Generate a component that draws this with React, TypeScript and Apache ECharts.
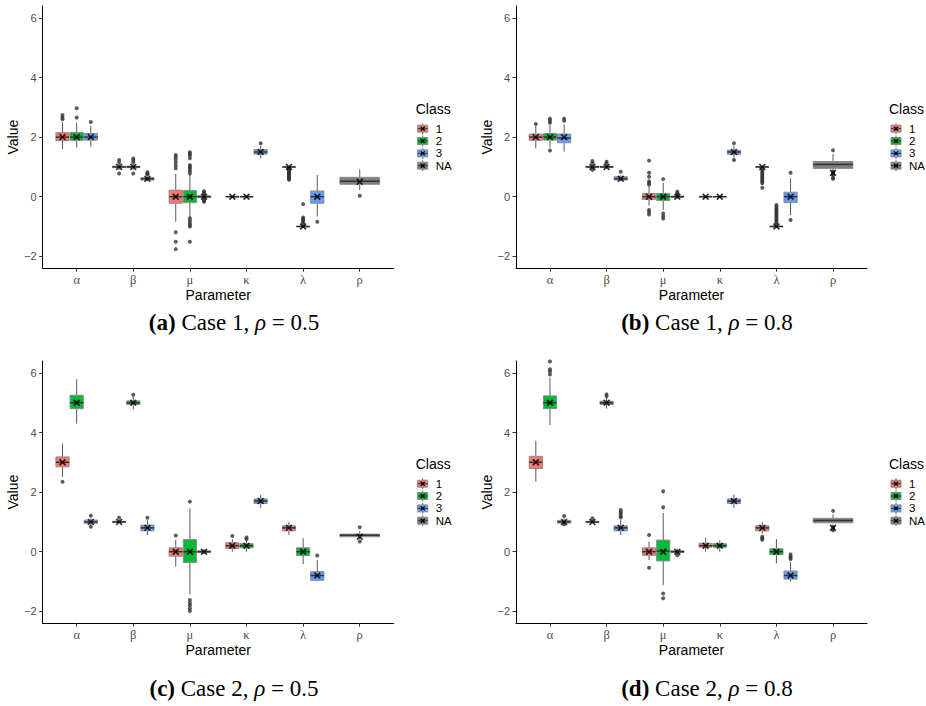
import React, { useEffect, useRef } from "react";
import * as echarts from "echarts";

// ---------- data ----------
const params = ["α", "β", "μ", "κ", "λ", "ρ"];
const classNames = ["1", "2", "3", "NA"];
const classColors = ["#F8766D", "#00BA38", "#619CFF", "#7F7F7F"];
const yTicks = [-2, 0, 2, 4, 6];

// box stats per class: [lower whisker, Q1, median, Q3, upper whisker] for each parameter
const boxesA = [
  [[1.59, 1.88, 2.0, 2.15, 2.5], [0.9, 0.975, 1.0, 1.025, 1.1], [-0.84, -0.22, 0.0, 0.22, 0.77], [-0.02, -0.01, 0, 0.01, 0.02], [0.97, 0.99, 1.0, 1.0, 1.02], null],
  [[1.65, 1.89, 2.0, 2.16, 2.48], [0.9, 0.975, 1.0, 1.025, 1.1], [-0.67, -0.2, 0.0, 0.21, 0.74], [-0.02, -0.01, 0, 0.01, 0.02], [-1.03, -1.01, -1.0, -0.99, -0.97], null],
  [[1.68, 1.9, 2.0, 2.12, 2.38], [0.52, 0.56, 0.6, 0.64, 0.68], [-0.08, -0.03, 0, 0.03, 0.08], [1.29, 1.43, 1.5, 1.58, 1.71], [-0.67, -0.22, 0.0, 0.19, 0.73], null],
  [null, null, null, null, null, [0.22, 0.415, 0.52, 0.65, 0.92]],
];
const outliersA = [
  [[2.74, 2.66, 2.6], [1.23, 1.15, 0.78], [1.4, 1.33, 1.25, 1.15, 1.05, 0.95, -1.19, -1.51, -1.76], [], [0.95, 0.92, 0.88, 0.85, 0.82, 0.78, 0.75, 0.72, 0.68, 0.65, 0.62, 0.6, 0.57], []],
  [[2.97, 2.66], [1.28, 1.22, 1.15, 0.78], [1.49, 1.44, 1.38, 1.29, 1.06, 1.0, 0.94, 0.86, 0.78, -0.72, -0.8, -0.88, -0.95, -1.0, -1.51], [], [-0.25, -0.7, -0.75, -0.8, -0.85, -0.9], []],
  [[2.51], [0.82, 0.78, 0.75], [0.18, 0.14, 0.11, -0.11, -0.14, -0.17], [1.79], [-0.84], []],
  [[], [], [], [], [], [0.03]],
];
const truthA = [
  [2, 1, 0, 0, 1, null],
  [2, 1, 0, 0, -1, null],
  [2, 0.6, 0, 1.5, 0, null],
  [null, null, null, null, null, 0.5],
];

const boxesB = [
  [[1.62, 1.89, 2.0, 2.1, 2.37], [0.92, 0.98, 1.0, 1.02, 1.08], [-0.3, -0.09, 0.0, 0.11, 0.33], [-0.02, -0.01, 0, 0.01, 0.02], [0.97, 0.99, 1.0, 1.0, 1.02], null],
  [[1.65, 1.9, 2.0, 2.12, 2.4], [0.92, 0.98, 1.0, 1.02, 1.08], [-0.45, -0.13, 0.0, 0.11, 0.47], [-0.02, -0.01, 0, 0.01, 0.02], [-1.03, -1.01, -1.0, -0.99, -0.97], null],
  [[1.51, 1.81, 1.97, 2.1, 2.42], [0.52, 0.56, 0.6, 0.67, 0.72], [-0.06, -0.02, 0, 0.02, 0.06], [1.3, 1.42, 1.5, 1.56, 1.7], [-0.62, -0.2, 0.0, 0.15, 0.62], null],
  [null, null, null, null, null, [0.89, 0.95, 1.08, 1.18, 1.43]],
];
const outliersB = [
  [[2.44], [1.2, 1.13, 0.9], [1.21, 0.8, 0.67, 0.52, 0.46, 0.4, -0.45, -0.52, -0.6], [], [0.92, 0.86, 0.8, 0.75, 0.7, 0.65, 0.6, 0.55, 0.5, 0.45, 0.3], []],
  [[2.62, 2.55, 2.48, 1.55], [1.17, 1.12], [0.59, -0.56, -0.66, -0.73], [], [-0.28, -0.34, -0.4, -0.45, -0.5, -0.55, -0.6, -0.65, -0.7, -0.75, -0.8, -0.85, -0.9], []],
  [[2.62, 2.55], [0.84], [0.17, 0.12, 0.09], [1.79, 1.23], [0.8, -0.78], []],
  [[], [], [], [], [], [1.56, 0.84, 0.8, 0.76, 0.72, 0.63, 0.6]],
];
const truthB = [
  [2, 1, 0, 0, 1, null],
  [2, 1, 0, 0, -1, null],
  [2, 0.6, 0, 1.5, 0, null],
  [null, null, null, null, null, 0.8],
];

const boxesC = [
  [[2.51, 2.85, 3.0, 3.18, 3.63], [0.95, 0.98, 1.0, 1.02, 1.06], [-0.5, -0.15, 0.0, 0.13, 0.4], [0.0, 0.11, 0.2, 0.3, 0.42], [0.56, 0.7, 0.8, 0.87, 1.0], null],
  [[4.3, 4.8, 5.0, 5.25, 5.79], [4.77, 4.94, 5.0, 5.06, 5.2], [-1.43, -0.36, 0.0, 0.41, 1.45], [0.0, 0.13, 0.2, 0.27, 0.38], [-0.42, -0.13, 0.0, 0.13, 0.45], null],
  [[0.88, 0.95, 1.0, 1.06, 1.12], [0.56, 0.7, 0.8, 0.89, 1.06], [-0.08, -0.03, 0, 0.03, 0.08], [1.47, 1.62, 1.7, 1.77, 1.9], [-1.0, -0.96, -0.8, -0.67, -0.28], null],
  [null, null, null, null, null, [0.42, 0.5, 0.55, 0.59, 0.68]],
];
const outliersC = [
  [[2.35], [1.14], [0.54], [0.53], [], []],
  [[], [5.27], [1.68, -1.62, -1.72, -1.8, -1.9, -1.99], [0.48, 0.42], [], []],
  [[1.21, 0.84], [1.14], [], [], [-0.13], []],
  [[], [], [], [], [], [0.82, 0.34]],
];
const truthC = [
  [3, 1, 0, 0.2, 0.8, null],
  [5, 5, 0, 0.2, 0, null],
  [1, 0.8, 0, 1.7, -0.8, null],
  [null, null, null, null, null, 0.5],
];

const boxesD = [
  [[2.35, 2.79, 3.0, 3.2, 3.72], [0.95, 0.98, 1.0, 1.02, 1.06], [-0.28, -0.12, 0.0, 0.13, 0.34], [0.0, 0.15, 0.2, 0.28, 0.47], [0.6, 0.7, 0.8, 0.87, 1.0], null],
  [[4.25, 4.8, 5.0, 5.23, 5.83], [4.8, 4.94, 5.0, 5.05, 5.16], [-1.12, -0.31, 0.02, 0.39, 1.3], [0.0, 0.15, 0.2, 0.27, 0.39], [-0.39, -0.1, 0.0, 0.1, 0.42], null],
  [[0.9, 0.96, 1.0, 1.05, 1.12], [0.56, 0.7, 0.8, 0.87, 1.06], [-0.1, -0.03, 0, 0.03, 0.1], [1.47, 1.62, 1.7, 1.77, 1.92], [-1.0, -0.92, -0.8, -0.65, -0.34], null],
  [null, null, null, null, null, [0.95, 0.97, 1.05, 1.12, 1.25]],
];
const outliersD = [
  [[], [1.12], [0.56, -0.54], [], [0.5, 0.45, 0.4], []],
  [[6.38, 6.12, 6.05, 5.95], [5.28, 5.22], [2.03, 1.49, -1.4, -1.56], [], [], []],
  [[1.2, 0.92], [1.4, 1.33, 1.27, 1.2, 1.15], [-0.12], [], [-0.09, -0.15, -0.2, -0.25], []],
  [[], [], [], [], [], [1.37, 0.84, 0.78, 0.72]],
];
const truthD = [
  [3, 1, 0, 0.2, 0.8, null],
  [5, 5, 0, 0.2, 0, null],
  [1, 0.8, 0, 1.7, -0.8, null],
  [null, null, null, null, null, 0.8],
];

const captions = [
  { tag: "(a)", caseNo: "1", rho: "0.5" },
  { tag: "(b)", caseNo: "1", rho: "0.8" },
  { tag: "(c)", caseNo: "2", rho: "0.5" },
  { tag: "(d)", caseNo: "2", rho: "0.8" },
];

// ---------- layout ----------
const panelDefs = [
  { boxes: boxesA, outs: outliersA, truth: truthA, left: 42.7, top: 6, capX: 234, capY: 322 },
  { boxes: boxesB, outs: outliersB, truth: truthB, left: 516, top: 6, capX: 707, capY: 322 },
  { boxes: boxesC, outs: outliersC, truth: truthC, left: 42.7, top: 361, capX: 234, capY: 688 },
  { boxes: boxesD, outs: outliersD, truth: truthD, left: 516, top: 361, capX: 707, capY: 688 },
];
const GRID_W = 351;
const GRID_H = 262.2;
const DODGE = 0.75;
const BOXW = 0.7;
const SANS = "Liberation Sans, Arial, sans-serif";
const SERIF = "Liberation Serif, Times New Roman, serif";
const X_SYMBOL =
  "path://M0,1.7L1.7,0L5,3.3L8.3,0L10,1.7L6.7,5L10,8.3L8.3,10L5,6.7L1.7,10L0,8.3L3.3,5Z";

function buildOption() {
  const grid: any[] = [];
  const xAxis: any[] = [];
  const yAxis: any[] = [];
  const series: any[] = [];
  const graphic: any[] = [];

  panelDefs.forEach((pd, gi) => {
    grid.push({ left: pd.left, top: pd.top, width: GRID_W, height: GRID_H, containLabel: false });
    xAxis.push({
      gridIndex: gi,
      type: "value",
      min: 0.4,
      max: 6.6,
      splitLine: { show: false },
      axisLine: { show: true, onZero: false, lineStyle: { color: "#000", width: 1 } },
      axisTick: { show: true, customValues: [1, 2, 3, 4, 5, 6], length: 3.5, lineStyle: { color: "#333" } },
      axisLabel: {
        customValues: [1, 2, 3, 4, 5, 6],
        formatter: (v: number) => params[Math.round(v) - 1] || "",
        color: "#4D4D4D",
        fontFamily: SERIF,
        fontSize: 12.5,
        margin: 5,
      },
      name: "Parameter",
      nameLocation: "middle",
      nameGap: 20,
      nameTextStyle: { color: "#000", fontFamily: SANS, fontSize: 14 },
    });
    yAxis.push({
      gridIndex: gi,
      type: "value",
      min: -2.4,
      max: 6.4,
      splitLine: { show: false },
      axisLine: { show: true, onZero: false, lineStyle: { color: "#000", width: 1 } },
      axisTick: { show: true, customValues: yTicks, length: 3.5, lineStyle: { color: "#333" } },
      axisLabel: {
        customValues: yTicks,
        formatter: (v: number) => (v < 0 ? "\u2212" + Math.abs(v) : String(v)),
        color: "#4D4D4D",
        fontFamily: SANS,
        fontSize: 11,
        margin: 6,
      },
      name: "Value",
      nameLocation: "middle",
      nameGap: 22,
      nameTextStyle: { color: "#000", fontFamily: SANS, fontSize: 14 },
    });

    // positions via dodge
    const posOf = (ci: number, pi: number) => {
      const present: number[] = [];
      for (let c = 0; c < 4; c++) if (pd.boxes[c][pi]) present.push(c);
      const n = present.length;
      const k = present.indexOf(ci);
      return { x: pi + 1 + (k - (n - 1) / 2) * (DODGE / n), hw: BOXW / n / 2 };
    };

    const outData: number[][] = [];
    const truthData: number[][] = [];
    for (let c = 0; c < 4; c++) {
      const boxData: any[] = [];
      pd.boxes[c].forEach((b: any, pi: number) => {
        if (!b) return;
        const { x, hw } = posOf(c, pi);
        boxData.push([x, b[0], b[1], b[2], b[3], b[4], hw]);
        pd.outs[c][pi].forEach((v: number) => outData.push([x, v]));
        const t = pd.truth[c][pi];
        if (t !== null && t !== undefined) truthData.push([x, t]);
      });
      const color = classColors[c];
      series.push({
        type: "custom",
        name: classNames[c],
        xAxisIndex: gi,
        yAxisIndex: gi,
        data: boxData,
        encode: { x: 0, y: [1, 2, 3, 4, 5] },
        z: 2,
        renderItem: (_p: any, api: any) => {
          const x = api.value(0);
          const lo = api.value(1), q1 = api.value(2), med = api.value(3), q3 = api.value(4), hi = api.value(5);
          const hw = api.value(6);
          const tl = api.coord([x - hw, q3]);
          const br = api.coord([x + hw, q1]);
          const pm = api.coord([x, med]);
          const pl = api.coord([x, lo]);
          const ph = api.coord([x, hi]);
          const cx = pm[0];
          return {
            type: "group",
            children: [
              { type: "line", shape: { x1: cx, y1: ph[1], x2: cx, y2: tl[1] }, style: { stroke: "#5a5a5a", lineWidth: 1 } },
              { type: "line", shape: { x1: cx, y1: br[1], x2: cx, y2: pl[1] }, style: { stroke: "#5a5a5a", lineWidth: 1 } },
              {
                type: "rect",
                shape: { x: tl[0], y: tl[1], width: br[0] - tl[0], height: Math.max(br[1] - tl[1], 0.5) },
                style: { fill: color, stroke: "#8c8c8c", lineWidth: 1 },
              },
              { type: "line", shape: { x1: tl[0], y1: pm[1], x2: br[0], y2: pm[1] }, style: { stroke: "#333", lineWidth: 1.5 } },
            ],
          };
        },
      });
    }
    series.push({
      type: "scatter",
      xAxisIndex: gi,
      yAxisIndex: gi,
      data: outData,
      symbol: "circle",
      symbolSize: 4,
      itemStyle: { color: "#333" },
      clip: true,
      z: 3,
    });
    series.push({
      type: "scatter",
      xAxisIndex: gi,
      yAxisIndex: gi,
      data: truthData,
      symbol: X_SYMBOL,
      symbolSize: 7,
      itemStyle: { color: "#000" },
      clip: true,
      z: 4,
    });

    // legend
    const lx = pd.left + 373;
    const ly = pd.top;
    graphic.push({
      type: "text",
      x: lx,
      y: ly + 103,
      style: { text: "Class", fontFamily: SANS, fontSize: 14, fill: "#000", textVerticalAlign: "middle", textAlign: "left" },
    });
    [122.7, 135, 147.4, 159.7].forEach((dy, c) => {
      const cy = ly + dy;
      const kx = lx + 2;
      const kw = 10;
      const kc = kx + kw / 2;
      graphic.push({
        type: "group",
        children: [
          { type: "line", shape: { x1: kc, y1: cy - 5.5, x2: kc, y2: cy + 5.5 }, style: { stroke: "#666", lineWidth: 1 } },
          { type: "rect", shape: { x: kx, y: cy - 3.5, width: kw, height: 7 }, style: { fill: classColors[c], stroke: "#8c8c8c", lineWidth: 1 } },
          { type: "line", shape: { x1: kx, y1: cy, x2: kx + kw, y2: cy }, style: { stroke: "#333", lineWidth: 1 } },
          { type: "line", shape: { x1: kc - 2, y1: cy - 2, x2: kc + 2, y2: cy + 2 }, style: { stroke: "#000", lineWidth: 1.3 } },
          { type: "line", shape: { x1: kc - 2, y1: cy + 2, x2: kc + 2, y2: cy - 2 }, style: { stroke: "#000", lineWidth: 1.3 } },
        ],
      });
      graphic.push({
        type: "text",
        x: lx + 20,
        y: cy,
        style: { text: classNames[c], fontFamily: SANS, fontSize: 11.5, fill: "#000", textVerticalAlign: "middle", textAlign: "left" },
      });
    });

    // caption
    const cap = captions[gi];
    graphic.push({
      type: "text",
      x: pd.capX,
      y: pd.capY,
      style: {
        text: `{b|${cap.tag}} Case ${cap.caseNo}, {i|ρ} = ${cap.rho}`,
        fontFamily: SERIF,
        fontSize: 23,
        fill: "#000",
        textAlign: "center",
        textVerticalAlign: "middle",
        rich: {
          b: { fontWeight: "bold", fontFamily: SERIF, fontSize: 23 },
          i: { fontStyle: "italic", fontFamily: SERIF, fontSize: 23 },
        },
      },
    });
  });

  return { animation: false, backgroundColor: "#fff", grid, xAxis, yAxis, series, graphic };
}

export default function App() {
  const ref = useRef<HTMLDivElement>(null);
  useEffect(() => {
    if (!ref.current) return;
    const chart = echarts.init(ref.current, undefined, { renderer: "svg" });
    chart.setOption(buildOption() as any);
    return () => chart.dispose();
  }, []);
  return (
    <div
      ref={ref}
      style={{ position: "fixed", left: 0, top: 0, width: 926, height: 706, background: "#fff" }}
    />
  );
}
